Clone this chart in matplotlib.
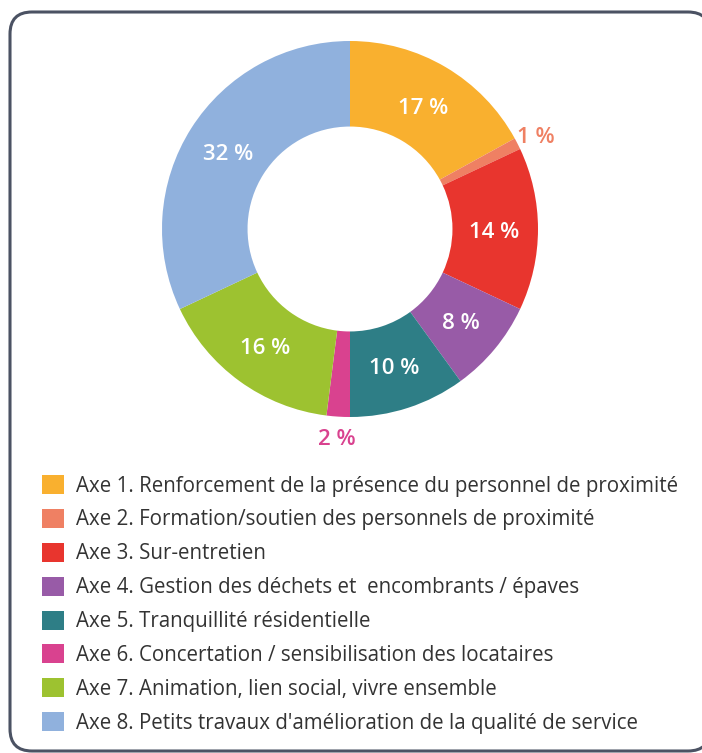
import numpy as np
import matplotlib.pyplot as plt
from matplotlib.patches import FancyBboxPatch

# ---- Data ----
labels = [
    "Axe 1. Renforcement de la présence du personnel de proximité",
    "Axe 2. Formation/soutien des personnels de proximité",
    "Axe 3. Sur-entretien",
    "Axe 4. Gestion des déchets et  encombrants / épaves",
    "Axe 5. Tranquillité résidentielle",
    "Axe 6. Concertation / sensibilisation des locataires",
    "Axe 7. Animation, lien social, vivre ensemble",
    "Axe 8. Petits travaux d'amélioration de la qualité de service",
]
values = [17, 1, 14, 8, 10, 2, 16, 32]
colors = ["#F9B02F", "#EF8063", "#E8352E", "#985BA7",
          "#2E7E86", "#D9428F", "#9DC230", "#90B1DD"]
outside = [False, True, False, False, False, True, False, False]

plt.rcParams["font.family"] = ["Open Sans", "DejaVu Sans"]

W, H = 702, 753
fig = plt.figure(figsize=(W / 100, H / 100), dpi=100)
ax = fig.add_axes([0, 0, 1, 1])

# ---- Frame ----
frame = FancyBboxPatch((10, 2), 700, 739, boxstyle="round,pad=0,rounding_size=22",
                       fc="white", ec="#4B5263", lw=2.2, zorder=0)
ax.add_patch(frame)

# ---- Donut ----
cx, cy, R = 350, H - 229, 188
wedges, _ = ax.pie(values, colors=colors, startangle=90, counterclock=False,
                   center=(cx, cy), radius=R, wedgeprops=dict(width=R * 0.455, lw=0),
                   frame=True)
ax.set_xlim(0, W)
ax.set_ylim(0, H)
ax.set_aspect("equal")
ax.axis("off")

for w, v, col, out in zip(wedges, values, colors, outside):
    ang = np.deg2rad((w.theta1 + w.theta2) / 2)
    if out:
        r, c = R + 20, col
    else:
        r, c = R * 0.765, "white"
    ax.text(cx + r * np.cos(ang), cy + r * np.sin(ang) - 3, f"{v} %", color=c,
            fontsize=16, fontweight="semibold", ha="center", va="center")

# ---- Legend ----
leg = ax.legend(wedges, labels, loc="upper left", bbox_to_anchor=(42 / W, 1 - 475 / H),
                frameon=False, fontsize=14.8, handlelength=1.05, handleheight=1.05,
                handletextpad=0.62, labelspacing=0.6, borderpad=0, borderaxespad=0)
for t in leg.get_texts():
    t.set_color("#333333")

fig.savefig("out.png", dpi=100)
